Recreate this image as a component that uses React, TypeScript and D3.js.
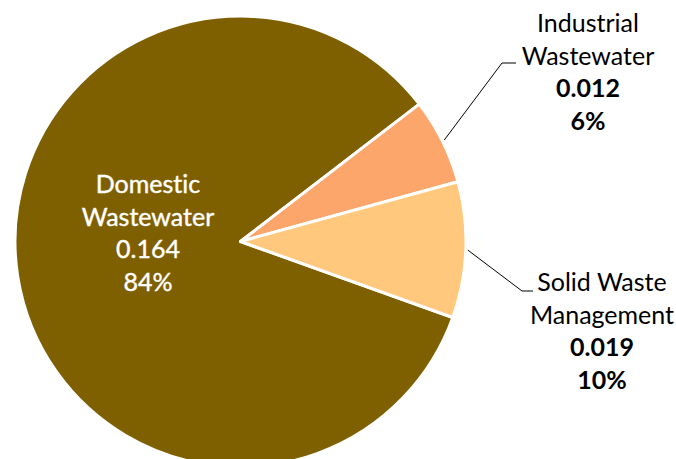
import React from "react";
import * as d3 from "d3";

const categories = ["Domestic Wastewater", "Industrial Wastewater", "Solid Waste Management"];
const labelLines = [["Domestic", "Wastewater"], ["Industrial", "Wastewater"], ["Solid Waste", "Management"]];
const values = [0.164, 0.012, 0.019];
const valueLabels = ["0.164", "0.012", "0.019"];
const percentLabels = ["84%", "6%", "10%"];
const colors = ["#7F6000", "#FCA66C", "#FFC87C"];

const W = 676, H = 459;
const cx = 240.5, cy = 241.5, R = 225.5;
const deg = Math.PI / 180;

export default function App() {
  const pie = d3.pie<number>().sort(null).value(d => d)
    .startAngle(109.7 * deg).endAngle((109.7 + 360) * deg);
  const arcs = pie(values);
  const arc = d3.arc<d3.PieArcDatum<number>>().innerRadius(0).outerRadius(R);

  const labelPos = [
    { x: 148, y: 193, fill: "#ffffff", inside: true },
    { x: 588, y: 32, fill: "#000000", inside: false },
    { x: 602, y: 291, fill: "#000000", inside: false },
  ];
  const lineH = 32.7;

  const leader = (i: number) => {
    const a = arcs[i];
    const mid = (a.startAngle + a.endAngle) / 2;
    const p0 = [cx + Math.sin(mid) * (R + 2), cy - Math.cos(mid) * (R + 2)];
    if (i === 1) {
      return `M${p0[0]},${p0[1]}L502,63L516,63`;
    }
    return `M${p0[0]},${p0[1]}L522,291L533,291`;
  };

  return (
    <svg width={W} height={H} style={{ position: "absolute", left: 0, top: 0 }}>
      <rect width={W} height={H} fill="#ffffff" />
      <g transform={`translate(${cx},${cy})`}>
        {arcs.map((a, i) => (
          <path key={categories[i]} d={arc(a) || ""} fill={colors[i]} stroke="#ffffff" strokeWidth={3} strokeLinejoin="round" />
        ))}
      </g>
      {[1, 2].map(i => (
        <path key={"l" + i} d={leader(i)} fill="none" stroke="#000000" strokeWidth={1} />
      ))}
      {labelPos.map((p, i) => (
        <text key={"t" + i} x={p.x} y={p.y} textAnchor="middle" fontFamily="Lato, 'Open Sans', sans-serif" fontSize={25} fill={p.fill}
          style={{ fontVariantLigatures: "none", fontFeatureSettings: "'liga' 0, 'dlig' 0" }}
          stroke={p.inside ? "#ffffff" : "none"} strokeWidth={p.inside ? 0.4 : 0}>
          <tspan x={p.x} dy={0}>{labelLines[i][0]}</tspan>
          <tspan x={p.x} dy={lineH}>{labelLines[i][1]}</tspan>
          <tspan x={p.x} dy={lineH} fontWeight={p.inside ? 400 : 700}>{valueLabels[i]}</tspan>
          <tspan x={p.x} dy={lineH} fontWeight={p.inside ? 400 : 700}>{percentLabels[i]}</tspan>
        </text>
      ))}
    </svg>
  );
}
